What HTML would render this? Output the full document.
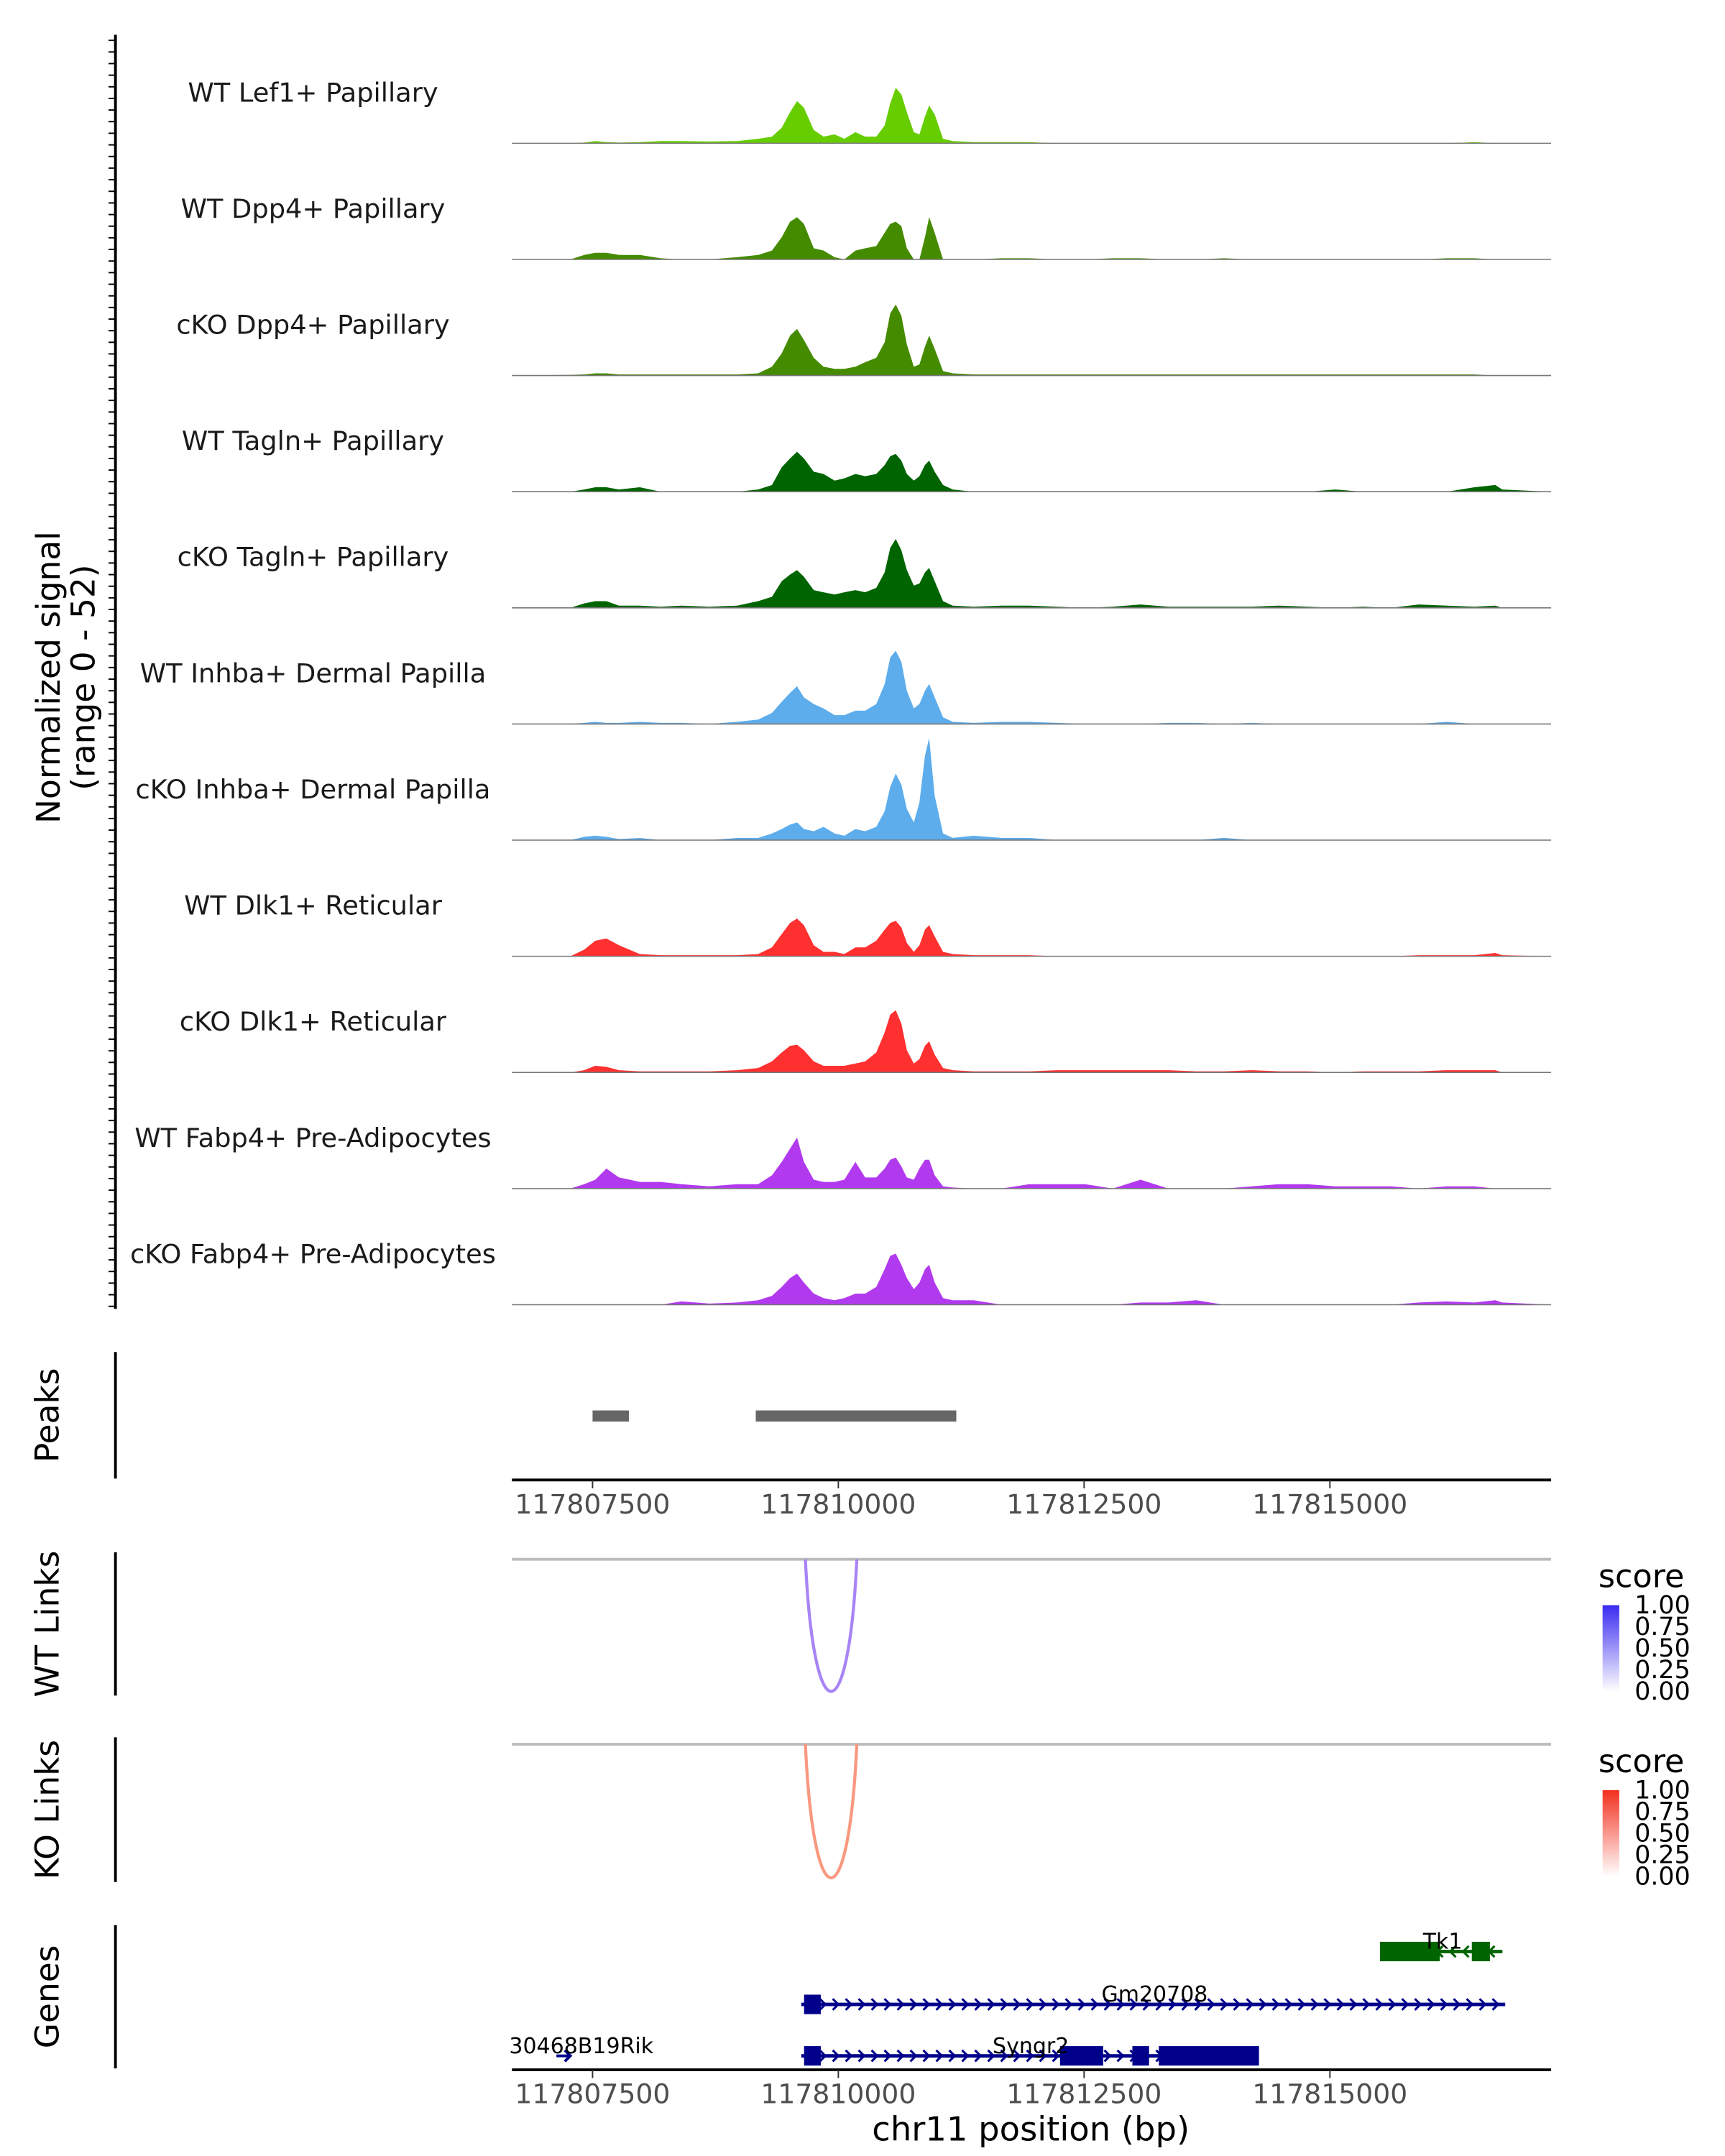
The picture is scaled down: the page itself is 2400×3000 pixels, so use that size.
<!DOCTYPE html>
<html><head><meta charset="utf-8"><style>
html,body{margin:0;padding:0;background:#fff}
svg{display:block}
text{font-family:"DejaVu Sans","Liberation Sans",sans-serif}
</style></head><body>
<svg id="fig" xmlns="http://www.w3.org/2000/svg" width="2400" height="3000" viewBox="0 0 1240 1550">
<defs>
<linearGradient id="gBlue" x1="0" y1="1" x2="0" y2="0"><stop offset="0" stop-color="#ffffff"/><stop offset="1" stop-color="#3a2bf0"/></linearGradient>
<linearGradient id="gRed" x1="0" y1="1" x2="0" y2="0"><stop offset="0" stop-color="#ffffff"/><stop offset="1" stop-color="#f2301e"/></linearGradient>
</defs>
<g id="root"></g>
</svg>
<script>
const positions=[117806679,117807274,117807415,117807528,117807641,117807769,117807981,117808193,117808405,117808688,117808971,117809184,117809325,117809424,117809509,117809580,117809650,117809750,117809849,117809962,117810061,117810174,117810273,117810386,117810471,117810528,117810584,117810641,117810697,117810768,117810825,117810881,117810924,117810980,117811065,117811164,117811377,117811660,117811942,117812225,117812508,117812791,117813074,117813357,117813640,117813923,117814206,117814489,117814772,117815055,117815338,117815621,117815904,117816187,117816470,117816682,117816753,117817248];
const trackNames=["WT Lef1+ Papillary","WT Dpp4+ Papillary","cKO Dpp4+ Papillary","WT Tagln+ Papillary","cKO Tagln+ Papillary","WT Inhba+ Dermal Papilla","cKO Inhba+ Dermal Papilla","WT Dlk1+ Reticular","cKO Dlk1+ Reticular","WT Fabp4+ Pre-Adipocytes","cKO Fabp4+ Pre-Adipocytes"];
const trackColors=["#66CD00","#458B00","#458B00","#006400","#006400","#5DADEC","#5DADEC","#FF3030","#FF3030","#B23AEE","#B23AEE"];
const sLef1WT=[0,0,0.3,1,0.5,0.3,0.5,1,1,0.8,1,2,3,7,14,19,16,6,3,4,2,5,3,3,8,18,25,22,14,5,4,12,17,13,2,1,0.5,0.5,0.5,0,0,0,0,0,0,0,0,0,0,0,0,0,0,0,0.5,0,0,0];
const sDpp4WT=[0,0,2,3,3,2,2,0.5,0,0,1,2,4,10,17,19,16,5,4,1,0,4,5,6,12,16,17,15,5,0,0,10,19,12,0,0,0,0.5,0.5,0,0,0.5,0.5,0,0,0.5,0,0,0,0,0,0,0,0.5,0.5,0,0,0];
const sDpp4KO=[0,0.3,0.5,1,1,0.5,0.5,0.5,0.5,0.5,0.5,1,4,10,18,21,16,8,4,3,3,4,6,8,15,28,32,27,14,4,5,13,18,12,2,1,0.5,0.5,0.5,0.5,0.5,0.5,0.5,0.5,0.5,0.5,0.5,0.5,0.5,0.5,0.5,0.5,0.5,0.5,0.5,0,0,0];
const sTaglnWT=[0,0,1,2,2,1,2,0,0,0,0,1,3,11,15,18,15,9,8,5,6,8,7,8,12,16,17,14,8,5,7,12,14,9,3,1,0,0,0,0,0,0,0,0,0,0,0,0,0,1,0,0,0,0,2,3,1,0];
const sTaglnKO=[0,0,2,3,3,1,1,0.5,1,0.5,1,3,5,12,15,17,14,8,7,6,7,8,7,9,16,27,31,26,17,10,11,16,18,12,3,1,0.5,1,1,0.5,0,0.5,1.5,0.5,0.5,0.5,0.5,1,0.5,0,0.5,0,1.5,1,0.5,1,0,0];
const sInhbaWT=[0,0,0.5,1,0.5,0.5,1,0.5,0.5,0,1,2,5,10,14,17,12,9,7,4,4,6,6,9,18,30,33,28,15,7,9,15,18,12,3,1,0.5,1,1,0.5,0,0,0,0.5,0.5,0,0.5,0,0,0,0,0,0,1,0,0,0,0];
const sInhbaKO=[0,0,1.5,2,1.5,0.5,1,0,0,0,1,1,3,5,7,8,5,4,6,3,2,5,4,6,13,24,30,25,14,8,17,38,46,20,3,1,2,1,1,0,0,0,0,0,0,1,0,0,0,0,0,0,0,0,0,0,0,0];
const sDlk1WT=[0,0,3,7,8,5,1,0.5,0.5,0.5,0.5,1,4,10,15,17,14,5,2,2,1,4,4,7,12,15,16,13,6,2,5,12,14,9,2,1,0.5,0.5,0.5,0,0,0,0,0,0,0,0,0,0,0,0,0,0.5,0.5,0.5,1.5,0.5,0];
const sDlk1KO=[0,0,1,3,2.5,1,0.5,0.5,0.5,0.5,1,2,5,9,12,12.5,10,5,3,3,3,4,5,9,18,26,28,22,10,4,6,12,14,8,2,1,0.5,0.5,0.5,1,1,1,1,1,0.5,0.5,1,0.5,0.5,0,0.5,0.5,0.5,1,1,1,0,0];
const sFabp4WT=[0,0,2,4,9,5,3,3,2,1,2,2,6,12,18,23,12,4,3,3,4,12,5,5,9,13,14,10,5,4,9,13,13,6,1,0.5,0,0,2,2,2,0,4,0,0,0,1,2,2,1,1,1,0,1,1,0,0,0];
const sFabp4KO=[0,0,0,0,0,0,0,0,1.5,0.5,1,2,4,8,12,14,10,5,3,2,3,5,5,8,16,22,23,18,12,7,10,16,18,10,3,2,2,0,0,0,0,0,1,1,2,0,0,0,0,0,0,0,1,1.5,1,2,1,0];
const seriesList=[sLef1WT,sDpp4WT,sDpp4KO,sTaglnWT,sTaglnKO,sInhbaWT,sInhbaKO,sDlk1WT,sDlk1KO,sFabp4WT,sFabp4KO];
const yMax=52;
const xTicks=[117807500,117810000,117812500,117815000];
const xTickLabels=["117807500","117810000","117812500","117815000"];
const peakStarts=[117807500,117809160];
const peakEnds=[117807870,117811200];
const wtLinkStart=[117809665];const wtLinkEnd=[117810188];const wtLinkScore=[0.45];
const koLinkStart=[117809665];const koLinkEnd=[117810188];const koLinkScore=[0.45];
const legendTicks=[0,0.25,0.5,0.75,1];
const legendLabels=["0.00","0.25","0.50","0.75","1.00"];

const NS="http://www.w3.org/2000/svg";
const root=document.getElementById('root');
function el(tag,attrs,parent,txt){const e=document.createElementNS(NS,tag);for(const k in attrs)e.setAttribute(k,attrs[k]);if(txt!==undefined)e.textContent=txt;(parent||root).appendChild(e);return e;}
const X0=368,X1=1115,D0=117806680,D1=117817250;
function xs(bp){return X0+(bp-D0)/(D1-D0)*(X1-X0);}
const base0=103,step=83.5,trackH=83;

seriesList.forEach((vals,i)=>{
  const b=base0+i*step;
  const g=el('g',{});
  
  
  let d='M'+xs(positions[0])+','+b;
  vals.forEach((v,j)=>{d+=' L'+xs(positions[j]).toFixed(2)+','+(b-v/yMax*trackH).toFixed(2);});
  d+=' L'+xs(positions[positions.length-1])+','+b+' Z';
  const p=el('path',{d:d,fill:trackColors[i],stroke:'none'},g);
  
  
  const l=el('line',{x1:X0,x2:X1,y1:b,y2:b,stroke:'#777','stroke-width':0.8},g);
  
  
  const t=el('text',{x:225,y:b-30,'text-anchor':'middle','font-size':19,fill:'#1a1a1a'},g,trackNames[i]);
  
  
});
const ax=el('line',{x1:83,x2:83,y1:25,y2:941,stroke:'#000','stroke-width':2});


for(let y=29;y<940;y+=8.35){const tk=el('line',{x1:78,x2:83,y1:y,y2:y,stroke:'#000','stroke-width':1});

}
const yt=el('text',{transform:'translate(43,487) rotate(-90)','text-anchor':'middle','font-size':23.5,fill:'#000'});


el('tspan',{x:0,dy:0},yt,'Normalized signal');
el('tspan',{x:0,dy:25},yt,'(range 0 - 52)');

function panelAxis(y1,y2,label,name){
  const a=el('line',{x1:83,x2:83,y1:y1,y2:y2,stroke:'#000','stroke-width':2});
  
  
  const t=el('text',{transform:'translate(42,'+((y1+y2)/2)+') rotate(-90)','text-anchor':'middle','font-size':23.5,fill:'#000'},root,label);
  
  
}
function xAxis(y,name){
  const a=el('line',{x1:X0,x2:X1,y1:y,y2:y,stroke:'#000','stroke-width':2});
  
  
  xTicks.forEach((v,i)=>{
    const tk=el('line',{x1:xs(v),x2:xs(v),y1:y,y2:y+6,stroke:'#333','stroke-width':1});
    
    
    const t=el('text',{x:xs(v),y:y+24,'text-anchor':'middle','font-size':19.5,fill:'#4d4d4d'},root,xTickLabels[i]);
    
    
  });
}
panelAxis(972,1063,'Peaks','peaks');
peakStarts.forEach((s,i)=>{const r=el('rect',{x:xs(s),y:1014,width:xs(peakEnds[i])-xs(s),height:8,fill:'#666'});

});
xAxis(1064,'peaks-x-axis');

function links(y0,y1,starts,ends,scores,col,grad,label,name){
  panelAxis(y0-5,y1+3,label,name);
  const bl=el('line',{x1:X0,x2:X1,y1:y0,y2:y0,stroke:'#bbb','stroke-width':2});
  
  
  starts.forEach((s,i)=>{
    const a=xs(s),b=xs(ends[i]);
    const c=y0+(y1-y0)/0.75;
    const p=el('path',{d:`M${a},${y0} C${a+(b-a)*0.16},${c} ${b-(b-a)*0.16},${c} ${b},${y0}`,fill:'none',stroke:col,'stroke-width':2.2});
    
    
  });
  const ly=y0+11;
  const lt=el('text',{x:1149,y:ly+9,'font-size':23,fill:'#000'},root,'score');
  
  
  const r=el('rect',{x:1152,y:ly+22,width:12,height:62,fill:'url(#'+grad+')'});
  
  
  legendTicks.forEach((v,i)=>{const yy=ly+84-v*62;
    const t=el('text',{x:1175,y:yy+6,'font-size':18,fill:'#000'},root,legendLabels[i]);
    
    });
}
links(1121,1216,wtLinkStart,wtLinkEnd,wtLinkScore,'#a884f5','gBlue','WT Links','wt-links');
links(1254,1350,koLinkStart,koLinkEnd,koLinkScore,'#f99880','gRed','KO Links','ko-links');

panelAxis(1384,1487,'Genes','genes');
function chevrons(x0,x1,y,col,dir){for(let x=x0+6;x<x1-2;x+=9.3){const p=el('path',{d:dir>0?`M${x-2},${y-4} L${x+2},${y} L${x-2},${y+4}`:`M${x+2},${y-4} L${x-2},${y} L${x+2},${y+4}`,fill:'none',stroke:col,'stroke-width':1.6});

}}
function gene(name,x0,x1,y,blocks,col,dir,lx,ly){
  const g=el('g',{});
  
  
  el('line',{x1:x0,x2:x1,y1:y,y2:y,stroke:col,'stroke-width':2.5},g);
  blocks.forEach(b=>el('rect',{x:b[0],y:y-7,width:b[1]-b[0],height:14,fill:col},g));
  chevrons(x0,x1,y,col,dir);
  const t=el('text',{x:lx,y:ly,'text-anchor':'middle','font-size':15.5,fill:'#000'},root,name);
  
  
}
gene('Tk1',992,1080,1403,[[992,1035],[1058,1071]],'#006400',-1,1037,1401);
gene('Gm20708',576,1082,1441,[[578,590]],'#00008B',1,830,1439);
gene('Syngr2',576,905,1478,[[578,590],[762,793],[814,826],[833,905]],'#00008B',1,741,1476);
const rk=el('path',{d:'M400,1478 L410,1478 M406,1474 L410,1478 L406,1482',fill:'none',stroke:'#00008B','stroke-width':2});


const rkt=el('text',{x:366,y:1476,'font-size':15.5,fill:'#000'},root,'30468B19Rik');


const cov=el('rect',{x:300,y:1458,width:66,height:22,fill:'#fff'});


xAxis(1488,'genes-x-axis');
const xt=el('text',{x:741,y:1539,'text-anchor':'middle','font-size':24,fill:'#000'},root,'chr11 position (bp)');


</script>
</body></html>
